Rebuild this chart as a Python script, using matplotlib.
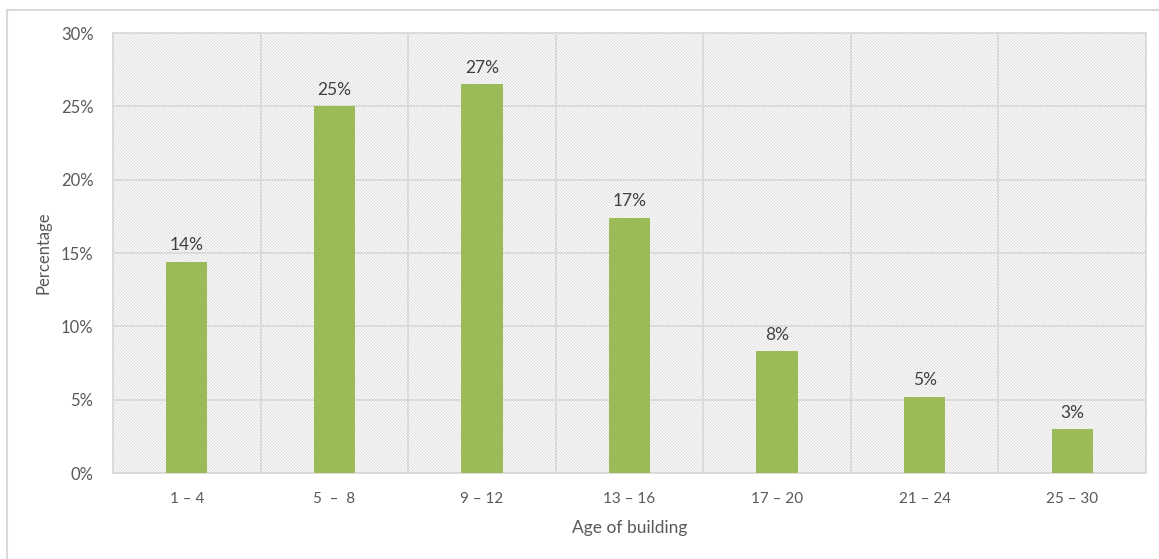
import matplotlib.pyplot as plt
from matplotlib.patches import Rectangle
from matplotlib.lines import Line2D
from matplotlib.ticker import PercentFormatter, FixedLocator

# data
age_groups = ["1 – 4", "5  –  8", "9 – 12", "13 – 16", "17 – 20", "21 – 24", "25 – 30"]
percent = [14.4, 25.0, 26.5, 17.4, 8.3, 5.2, 3.0]
labels = ["14%", "25%", "27%", "17%", "8%", "5%", "3%"]

plt.rcParams["font.family"] = ["Lato", "DejaVu Sans"]
plt.rcParams["hatch.linewidth"] = 0.7
text_col = "#595959"
grid_col = "#d9d9d9"

fig = plt.figure(figsize=(11.59, 5.59), dpi=100)
ax = fig.add_axes([113 / 1159, 86 / 559, 1033 / 1159, 440 / 559])

# hatched plot area background
ax.add_patch(Rectangle((0, 0), 1, 1, transform=ax.transAxes, facecolor="white",
                       edgecolor="#dcdcdc", hatch="\\" * 11, linewidth=0, zorder=0))

x = range(len(age_groups))
bars = ax.bar(x, percent, width=0.28, color="#9BBB59", zorder=3)
for xi, v, lab in zip(x, percent, labels):
    ax.annotate(lab, (xi, v), xytext=(0, 6), textcoords="offset points",
                ha="center", va="bottom", fontsize=12.5, color="#404040", zorder=4)

ax.set_xlim(-0.5, len(age_groups) - 0.5)
ax.set_ylim(0, 30)
ax.set_yticks(range(0, 31, 5))
ax.yaxis.set_major_formatter(PercentFormatter(decimals=0))
ax.set_xticks(list(x))
ax.set_xticklabels(age_groups)
ax.xaxis.set_minor_locator(FixedLocator([i + 0.5 for i in range(-1, len(age_groups))]))

ax.grid(axis="y", which="major", color=grid_col, lw=1.3, zorder=1)
ax.grid(axis="x", which="minor", color=grid_col, lw=1.3, zorder=1)
ax.set_axisbelow(True)
for s in ax.spines.values():
    s.set_color(grid_col)
    s.set_linewidth(1.3)

ax.tick_params(axis="both", which="both", length=0, labelsize=11, labelcolor=text_col)
ax.tick_params(axis="y", labelsize=12, pad=14)
ax.tick_params(axis="x", pad=14)

ax.set_ylabel("Percentage", fontsize=12, color=text_col, labelpad=7)
ax.set_xlabel("Age of building", fontsize=12.5, color=text_col, labelpad=10)

# outer chart border (top and left edges visible)
fig.add_artist(Line2D([7 / 1159, 1], [1 - 10 / 559, 1 - 10 / 559],
                      transform=fig.transFigure, color=grid_col, lw=1.5))
fig.add_artist(Line2D([7 / 1159, 7 / 1159], [0, 1 - 10 / 559],
                      transform=fig.transFigure, color=grid_col, lw=1.5))

fig.savefig("out.png", dpi=100)
